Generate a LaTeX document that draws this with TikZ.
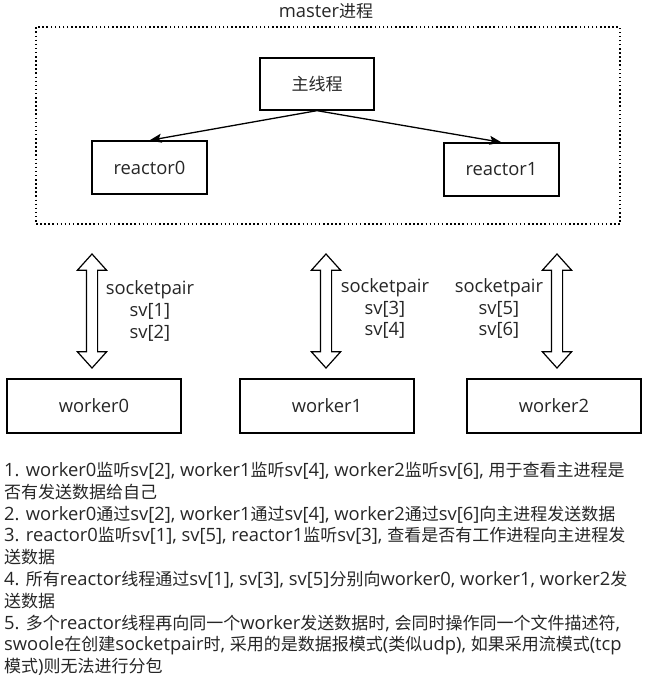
\documentclass[tikz,border=0pt]{standalone}
\usepackage{fontspec}
\setmainfont{Open Sans}[Scale=1.08]
\newfontfamily\zhfont{Noto Sans CJK SC}
\newcommand{\zh}[1]{{\zhfont #1}}
\usepackage{tikz}
\usetikzlibrary{arrows.meta,shapes.arrows}
\tikzstyle{es} = [-{Stealth[length=12pt,width=9pt,inset=2.5pt]}, line width=1.3pt]
\tikzstyle{box} = [draw, line width=1.3pt, inner sep=0pt]
\tikzstyle{dotbox} = [draw, line width=1.5pt, dash pattern=on 1.5pt off 2.6pt, inner sep=0pt]
\tikzstyle{dbl} = [draw, line width=1.2pt, shape=double arrow, shape border rotate=90, minimum height=114pt, inner sep=5pt, double arrow head extend=9pt, double arrow tip angle=84]
\tikzstyle{pairlbl} = [align=center, font=\fontsize{17}{21.8}\selectfont]

\begin{document}
\begin{tikzpicture}[x=1pt,y=-1pt,every node/.style={text=black!85,font=\fontsize{17}{20}\selectfont}]
			\useasboundingbox (0,0) rectangle (666,683);
			% master process
			\node (title) at (326,11) {master\zh{进程}};
			\node[dotbox, minimum width=584pt, minimum height=197pt] (master) at (328,125.5) {};
			\node[box, minimum width=114pt, minimum height=52pt] (main) at (317,84) {\zh{主线程}};
			\node[box, minimum width=115pt, minimum height=53pt] (r0) at (149.5,167.5) {reactor0};
			\node[box, minimum width=115pt, minimum height=53pt] (r1) at (501.5,169.5) {reactor1};
			\draw[es] (main.south) -- (r0.north);
			\draw[es] (main.south) -- (r1.north);
			% socketpairs
			\node[dbl] (a0) at (92,311) {};
			\node[dbl] (a1) at (326,311) {};
			\node[dbl] (a2) at (557,311) {};
			\node[pairlbl] (l0) at (150,311) {socketpair\\sv[1]\\sv[2]};
			\node[pairlbl] (l1) at (385,308.5) {socketpair\\sv[3]\\sv[4]};
			\node[pairlbl] (l2) at (499,308.5) {socketpair\\sv[5]\\sv[6]};
			% workers
			\node[box, minimum width=174pt, minimum height=54pt] (w0) at (94,406) {worker0};
			\node[box, minimum width=174pt, minimum height=54pt] (w1) at (327,406) {worker1};
			\node[box, minimum width=174pt, minimum height=54pt] (w2) at (554,406) {worker2};
			% notes
			\node[anchor=north west, align=left, inner sep=0pt, font=\fontsize{17}{21.8}\selectfont] (notes) at (4,462) {1. worker0\zh{监听}sv[2], worker1\zh{监听}sv[4], worker2\zh{监听}sv[6], \zh{用于查看主进程是}\\
				\zh{否有发送数据给自己}\\
				2. worker0\zh{通过}sv[2], worker1\zh{通过}sv[4], worker2\zh{通过}sv[6]\zh{向主进程发送数据}\\
				3. reactor0\zh{监听}sv[1], sv[5], reactor1\zh{监听}sv[3], \zh{查看是否有工作进程向主进程发}\\
				\zh{送数据}\\
				4. \zh{所有}reactor\zh{线程通过}sv[1], sv[3], sv[5]\zh{分别向}worker0, worker1, worker2\zh{发}\\
				\zh{送数据}\\
				5. \zh{多个}reactor\zh{线程再向同一个}worker\zh{发送数据时}, \zh{会同时操作同一个文件描述符},\\
				swoole\zh{在创建}socketpair\zh{时}, \zh{采用的是数据报模式}(\zh{类似}udp), \zh{如果采用流模式}(tcp\\
				\zh{模式})\zh{则无法进行分包}};
		\end{tikzpicture}
\end{document}
